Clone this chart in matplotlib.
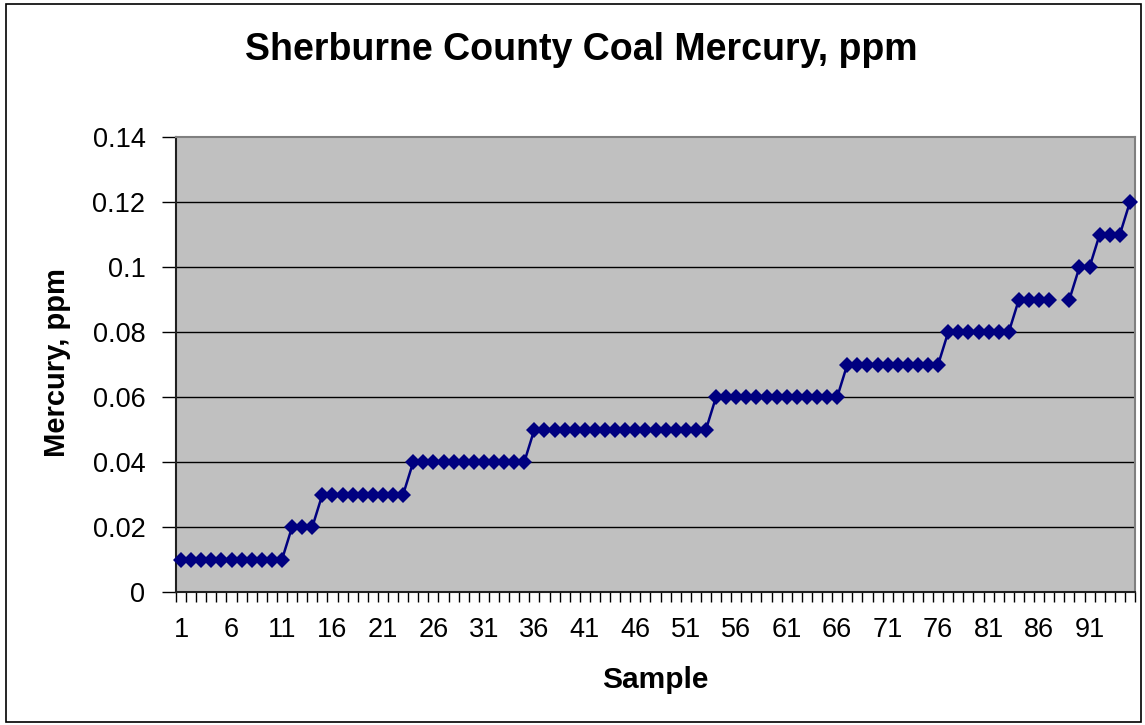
import numpy as np
import matplotlib as mpl
mpl.use('Agg')
import matplotlib.pyplot as plt
from matplotlib.patches import Rectangle

plt.rcParams['font.family'] = ['Liberation Sans', 'DejaVu Sans']

# mercury per sample, sorted; sample 88 has no value (gap in the line)
levels = [0.01, 0.02, 0.03, 0.04, 0.05, 0.06, 0.07, 0.08, 0.09, None, 0.09, 0.10, 0.11, 0.12]
counts = [11, 3, 9, 12, 18, 13, 10, 7, 4, 1, 1, 2, 3, 1]

mercury = []
for lev, n in zip(levels, counts):
    mercury += [np.nan if lev is None else lev] * n
mercury = np.array(mercury)
samples = np.arange(1, len(mercury) + 1)

x_labels = list(range(1, 92, 5))
y_ticks = [0, 0.02, 0.04, 0.06, 0.08, 0.1, 0.12, 0.14]

fig = plt.figure(figsize=(11.45, 7.25), dpi=100, facecolor='white')
ax = fig.add_axes([176/1145, 1-592/725, (1135-176)/1145, (592-137)/725])
ax.set_facecolor('#c0c0c0')

# outer chart border
fig.patches.append(Rectangle((6/1145, 3/725), 1135/1145, 718/725, transform=fig.transFigure,
                             fill=False, edgecolor='black', linewidth=1.2))

for y in y_ticks[1:-1]:
    ax.axhline(y, color='black', linewidth=1.0, zorder=1)

ax.plot(samples, mercury, color='#000080', linewidth=1.8, marker='D',
        markersize=8, markeredgewidth=0, zorder=3, clip_on=False)

ax.set_xlim(0.5, len(mercury) + 0.5)
ax.set_ylim(0, 0.14)

# category boundaries get the tick marks, every 5th category a label
ax.set_xticks(np.arange(0.5, len(mercury) + 1, 1.0))
ax.set_xticklabels([])
ax.set_xticks(x_labels, minor=True)
ax.set_xticklabels([str(v) for v in x_labels], minor=True, fontsize=19.5)
ax.tick_params(axis='x', which='major', direction='out', length=7, width=1, color='black')
ax.tick_params(axis='x', which='minor', length=0, pad=18)

ax.set_yticks(y_ticks)
ax.set_yticklabels(['0' if v == 0 else ('%g' % v) for v in y_ticks], fontsize=19.5)
ax.tick_params(axis='y', direction='out', length=10, width=1, color='black', pad=12)

for side in ['left', 'bottom']:
    ax.spines[side].set_color('#202020')
    ax.spines[side].set_linewidth(1.5)
for side in ['top', 'right']:
    ax.spines[side].set_color('#808080')
    ax.spines[side].set_linewidth(1.5)

fig.text(581/1145, 1-50/725, 'Sherburne County Coal Mercury, ppm', ha='center', va='center',
         fontsize=27, fontweight='bold')
fig.text(655/1145, 1-680/725, 'Sample', ha='center', va='center', fontsize=21.5, fontweight='bold')
fig.text(57/1145, 1-363/725, 'Mercury, ppm', ha='center', va='center', rotation=90,
         fontsize=21, fontweight='bold')

plt.savefig('out.png', dpi=100, facecolor='white')
